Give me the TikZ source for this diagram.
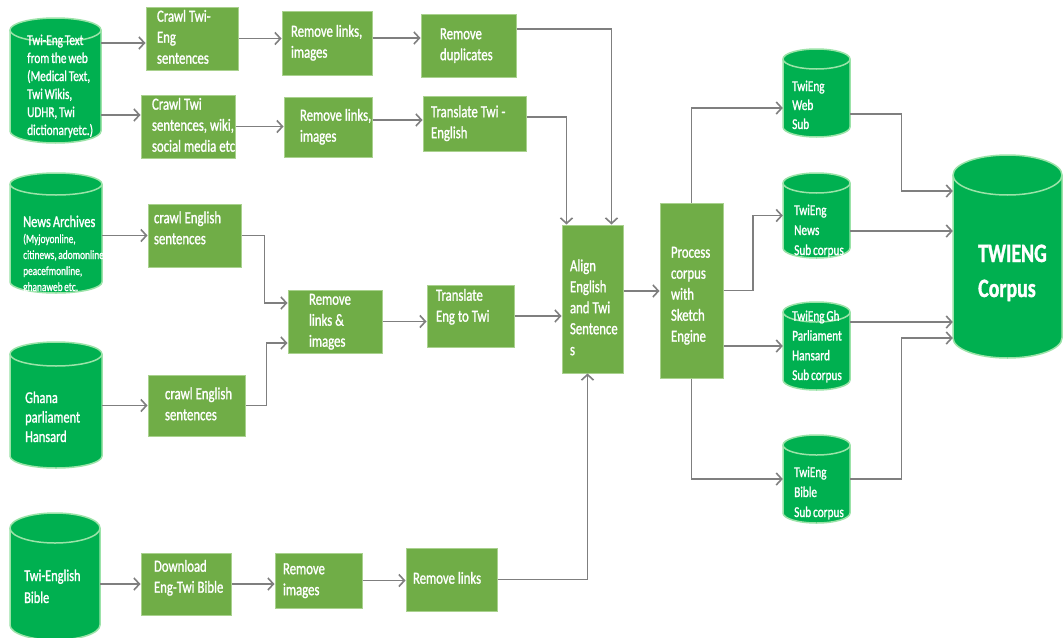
\documentclass[tikz,border=0pt]{standalone}
\usepackage{fontspec}
\setmainfont{Carlito}[FakeStretch=0.75,WordSpace=0.75,FakeBold=1.2]
\usetikzlibrary{arrows.meta,calc}
\definecolor{boxg}{HTML}{70AD47}
\definecolor{boxedge}{HTML}{A9D18E}
\definecolor{cylg}{HTML}{00B050}
\definecolor{cyledge}{HTML}{9BE3A8}
\definecolor{arrg}{HTML}{7F7F7F}
\newcommand{\boxfontsel}{\fontsize{17}{21}\selectfont}
\tikzset{
 boxnode/.style={fill=boxg, draw=boxedge, line width=1pt, text=white, align=left, inner ysep=0pt, font=\boxfontsel},
 cyltext/.style={text=white, align=left, inner sep=0pt, anchor=base west},
 arr/.style={draw=arrg, line width=1.6pt, -{Straight Barb[length=5.5pt,width=12pt]}},
 cylbody/.style={fill=cylg, draw=cyledge, line width=1.5pt},
}
\newcommand{\boxat}[8]{%
  \pgfmathsetmacro{\mybw}{#4-#2-2*#6}%
  \pgfmathsetmacro{\mybh}{#5-#3}%
  \node[boxnode, text width=\mybw pt, inner xsep=#6pt, minimum height=\mybh pt] (#1) at ({(#2+#4)/2},{-(#3+#5)/2}) {\spaceskip=3pt plus 1pt minus 0.5pt\relax\raisebox{#7pt}[\height][\depth]{\begin{tabular}{@{}l@{}}#8\end{tabular}}};%
}
\newcommand{\cylat}[6]{%
  \pgfmathsetmacro{\myrx}{(#4-#2)/2}%
  \pgfmathsetmacro{\mycx}{(#2+#4)/2}%
  \pgfmathsetmacro{\mycy}{-(#3+#5)/2}%
  \pgfmathsetmacro{\mych}{#5-#3}%
  \pgfmathsetmacro{\mycw}{#4-#2}%
  \path[cylbody] (#2,{-(#3+#6)}) -- (#2,{-(#5-#6)}) arc[start angle=180,end angle=360,x radius=\myrx pt,y radius=#6pt] -- (#4,{-(#3+#6)}) arc[start angle=0,end angle=180,x radius=\myrx pt,y radius=#6pt] -- cycle;
  \draw[cyledge, line width=1.5pt] (#2,{-(#3+#6)}) arc[start angle=180,end angle=360,x radius=\myrx pt,y radius=#6pt];
  \node[inner sep=0pt, minimum width=\mycw pt, minimum height=\mych pt] (#1) at (\mycx,\mycy) {};%
}
\begin{document}
\begin{tikzpicture}[x=1pt,y=1pt]
\useasboundingbox (0,0) rectangle (1064,-637);
\clip (0,0) rectangle (1064,-637);
\fill[white] (0,0) rectangle (1064,-637);

% source cylinders (text nodes anchored at the baseline of their last line)
\cylat{c1}{10}{18}{101}{143}{12}
\node[cyltext, font=\fontsize{15}{18}\selectfont] (c1t) at (27,-135) {Twi-Eng Text\\from the web\\(Medical Text,\\Twi Wikis,\\UDHR, Twi\\dictionaryetc.)};
\cylat{c2}{10}{173}{102}{293}{11}
\node[cyltext, font=\fontsize{16.5}{20}\selectfont] (c2t) at (23,-227) {News Archives};
\node[cyltext, font=\fontsize{12.5}{16}\selectfont] (c2d) at (23,-291) {(Myjoyonline,\\citinews, adomonline\\peacefmonline,\\ghanaweb etc.};
\cylat{c3}{10}{342}{102}{468}{12}
\node[cyltext, font=\fontsize{16.5}{19.5}\selectfont] (c3t) at (25,-442) {Ghana\\parliament\\Hansard};
\cylat{c4}{10}{513}{100}{640}{15}
\node[cyltext, font=\fontsize{16.5}{22}\selectfont] (c4t) at (24,-603) {Twi-English\\Bible};

% sub corpus cylinders
\cylat{s1}{783}{49}{850}{137}{10}
\node[cyltext, font=\fontsize{15}{19}\selectfont] (s1t) at (792,-129) {TwiEng\\Web\\Sub};
\cylat{s2}{783}{173}{850}{258}{10}
\node[cyltext, font=\fontsize{15}{20}\selectfont] (s2t) at (794,-255) {TwiEng\\News\\Sub corpus};
\cylat{s3}{783}{302}{850}{390}{10}
\node[cyltext, font=\fontsize{15}{19.7}\selectfont] (s3t) at (792,-380) {TwiEng Gh\\Parliament\\Hansard\\Sub corpus};
\cylat{s4}{783}{435}{850}{523}{10}
\node[cyltext, font=\fontsize{15}{20}\selectfont] (s4t) at (794,-517) {TwiEng\\Bible\\Sub corpus};

% final corpus
\cylat{big}{953}{155}{1062}{358}{20}
\node[cyltext, font=\fontsize{26.5}{35}\selectfont\bfseries] (bigt) at (978,-297) {TWIENG\\Corpus};

% process boxes
\boxat{b11}{146}{7}{238}{70}{11}{0}{Crawl Twi-\\Eng\\sentences}
\boxat{b21}{141}{95}{235}{158}{11}{0}{Crawl Twi\\sentences, wiki,\\social media etc}
\boxat{b31}{148}{204}{241}{267}{6}{6}{crawl English\\sentences}
\boxat{b41}{148}{375}{245}{436}{17}{0}{crawl English\\sentences}
\boxat{b51}{141}{553}{231}{615}{13}{6}{Download\\Eng-Twi Bible}
\boxat{b12}{282}{11}{372}{75}{9}{0}{Remove links,\\images}
\boxat{b22}{284}{97}{372}{157}{16}{0}{Remove links,\\images}
\boxat{b32}{288}{290}{382}{353}{21}{0}{Remove\\links \&\\images}
\boxat{b52}{275}{553}{362}{608}{8}{0}{Remove\\images}
\boxat{b13}{421}{14}{516}{77}{19}{0}{Remove\\duplicates}
\boxat{b23}{423}{96}{526}{151}{8}{0}{Translate Twi -\\English}
\boxat{b33}{427}{285}{514}{347}{9}{9}{Translate\\Eng to Twi}
\boxat{b53}{406}{548}{497}{611}{7}{0}{Remove links}
\boxat{al}{562}{225}{623}{373}{8}{-10}{Align\\English\\and Twi\\Sentence\\s}
\boxat{pr}{660}{203}{723}{378}{11}{-5}{Process\\corpus\\with\\Sketch\\Engine}

% connectors
\coordinate (a1) at ([yshift=-4.5pt]b11.west);
\draw[arr] (c1.east |- a1) -- (a1);
\coordinate (a2) at ([yshift=11.5pt]b21.west);
\draw[arr] (c1.east |- a2) -- (a2);
\draw[arr] (b11.east) -- (b12.west |- b11.east);
\draw[arr] (b21.east) -- (b22.west |- b21.east);
\coordinate (a5) at ([yshift=5pt]b12.east);
\draw[arr] (a5) -- (b13.west |- a5);
\coordinate (a6) at ([yshift=7pt]b22.east);
\draw[arr] (a6) -- (b23.west |- a6);
\coordinate (a7) at ([yshift=16.5pt]b13.east);
\coordinate (e7) at ([xshift=-12pt]al.north east);
\draw[arr] (a7) -| (e7);
\coordinate (a8) at ([yshift=6.5pt]b23.east);
\coordinate (e8) at ([xshift=5pt]al.north west);
\draw[arr] (a8) -| (e8);
\draw[arr] (c2.east |- b31.west) -- (b31.west);
\coordinate (e10) at ([yshift=18.5pt]b32.west);
\coordinate (m10) at ($(b31.east)!0.5!(b32.west)$);
\draw[arr] (b31.east) -| (m10) |- (e10);
\draw[arr] (c3.east |- b41.west) -- (b41.west);
\coordinate (e12) at ([yshift=-21.5pt]b32.west);
\coordinate (m12) at ($(b41.east)!0.5!(b32.west)$);
\draw[arr] (b41.east) -| (m12) |- (e12);
\draw[arr] (b32.east) -- (b33.west |- b32.east);
\draw[arr] (b33.east) -- (al.west |- b33.east);
\coordinate (a15) at ([yshift=8pt]al.east);
\draw[arr] (a15) -- (pr.west |- a15);
\draw[arr] (c4.east |- b51.west) -- (b51.west);
\draw[arr] (b51.east) -- (b52.west |- b51.east);
\draw[arr] (b52.east) -- (b53.west |- b52.east);
\coordinate (e19) at ([xshift=26pt]al.south west);
\draw[arr] (b53.east) -| (e19);
\coordinate (e20) at ([yshift=-15pt]s1.west);
\draw[arr] (pr.north) |- (e20);
\coordinate (m21) at ($(pr.east)!0.5!(s2.west)$);
\draw[arr] (pr.east) -| (m21) |- (s2.west);
\draw[arr] (pr.east |- s3.west) -- (s3.west);
\draw[arr] (pr.south) |- (s4.west);
\coordinate (a24) at ([yshift=-21pt]s1.east);
\coordinate (e24) at ([yshift=65.5pt]big.west);
\coordinate (m24) at ($(a24)!0.5!(e24)$);
\draw[arr] (a24) -| (m24) |- (e24);
\coordinate (a25) at ([yshift=-15.5pt]s2.east);
\draw[arr] (a25) -- (big.west |- a25);
\coordinate (a26) at ([yshift=24pt]s3.east);
\draw[arr] (a26) -- (big.west |- a26);
\coordinate (e27) at ([yshift=-81.5pt]big.west);
\coordinate (m27) at ($(s4.east)!0.5!(e27)$);
\draw[arr] (s4.east) -| (m27) |- (e27);
\end{tikzpicture}
\end{document}
